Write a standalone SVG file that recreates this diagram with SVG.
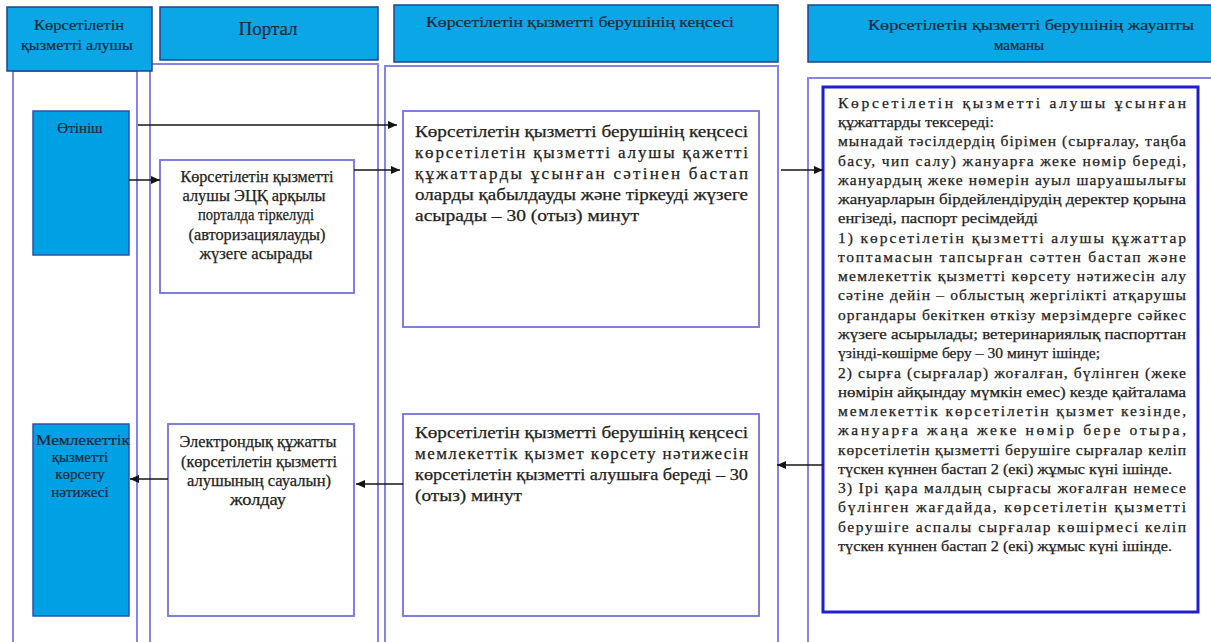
<svg xmlns="http://www.w3.org/2000/svg" width="1211" height="642" viewBox="0 0 1211 642">
<defs>
<style>
.hdr{fill:#0AA6E6;stroke:#23418F;stroke-width:1.5}
.lane{fill:none;stroke:#8585E3;stroke-width:2}
.box{fill:#fff;stroke:#7272DA;stroke-width:1.8}
.bbox{fill:#00A0E4;stroke:#2B52A8;stroke-width:1.5}
.big{fill:#fff;stroke:#1F1FD0;stroke-width:3}
.ht{fill:#15283A;stroke:#15283A;stroke-width:0.2;text-anchor:middle}
.t{fill:#222;stroke:#222;stroke-width:0.25}
.tc{fill:#222;stroke:#222;stroke-width:0.25;text-anchor:middle}
.conn{fill:none;stroke:#141414;stroke-width:1.5}
</style>
<marker id="ah" markerUnits="userSpaceOnUse" markerWidth="10" markerHeight="10" refX="9" refY="5" orient="auto">
<path d="M0,1 L9,5 L0,9 Z" fill="#141414"/>
</marker>
</defs>
<rect width="1211" height="642" fill="#fff"/>

<g id="lanes">
<rect class="lane" x="13" y="71" width="124" height="590"/>
<rect class="lane" x="150" y="64" width="228" height="600"/>
<rect class="lane" x="385" y="66" width="393" height="600"/>
<rect class="lane" x="808" y="78" width="420" height="600"/>
</g>

<g font-family="Liberation Serif, serif">
<g id="header-recipient">
<rect class="hdr" x="7" y="7" width="145" height="64"/>
<text class="ht" font-size="15" x="79" y="30" textLength="90" lengthAdjust="spacingAndGlyphs">Көрсетілетін</text>
<text class="ht" font-size="15" x="77" y="50" textLength="112" lengthAdjust="spacingAndGlyphs">қызметті алушы</text>
</g>
<g id="header-portal">
<rect class="hdr" x="160" y="7" width="218" height="53"/>
<text class="ht" font-size="19" x="268" y="35">Портал</text>
</g>
<g id="header-office">
<rect class="hdr" x="394" y="5" width="384" height="57"/>
<text class="ht" font-size="15" x="580" y="27" textLength="308" lengthAdjust="spacingAndGlyphs">Көрсетілетін қызметті берушінің кеңсесі</text>
</g>
<g id="header-specialist">
<rect class="hdr" x="808" y="5" width="410" height="57"/>
<text class="ht" font-size="15" x="1031" y="30" textLength="326" lengthAdjust="spacingAndGlyphs">Көрсетілетін қызметті берушінің жауапты</text>
<text class="ht" font-size="15" x="1019" y="50">маманы</text>
</g>

<g id="node-application">
<rect class="bbox" x="33" y="111" width="96" height="144"/>
<text class="ht" font-size="15" x="80" y="133">Өтініш</text>
</g>
<g id="node-result">
<rect class="bbox" x="33" y="424" width="96" height="192"/>
<text class="ht" font-size="15" x="83" y="445" textLength="94" lengthAdjust="spacingAndGlyphs">Мемлекеттік</text>
<text class="ht" font-size="15" x="80" y="462">қызметті</text>
<text class="ht" font-size="15" x="80" y="479">көрсету</text>
<text class="ht" font-size="15" x="80" y="497">нәтижесі</text>
</g>

<g id="node-portal-register">
<rect class="box" x="160" y="160" width="194" height="133"/>
<text class="tc" font-size="16" x="257" y="182" textLength="153" lengthAdjust="spacingAndGlyphs">Көрсетілетін қызметті</text>
<text class="tc" font-size="16" x="254" y="201" textLength="143" lengthAdjust="spacingAndGlyphs">алушы ЭЦҚ  арқылы</text>
<text class="tc" font-size="16" x="256" y="220" textLength="116" lengthAdjust="spacingAndGlyphs">порталда тіркелуді</text>
<text class="tc" font-size="16" x="257" y="240" textLength="137" lengthAdjust="spacingAndGlyphs">(авторизациялауды)</text>
<text class="tc" font-size="16" x="256" y="259" textLength="113" lengthAdjust="spacingAndGlyphs">жүзеге асырады</text>
</g>
<g id="node-portal-send">
<rect class="box" x="168" y="424" width="186" height="192"/>
<text class="tc" font-size="16" x="258" y="447" textLength="157" lengthAdjust="spacingAndGlyphs">Электрондық құжатты</text>
<text class="tc" font-size="16" x="259" y="467" textLength="156" lengthAdjust="spacingAndGlyphs">(көрсетілетін қызметті</text>
<text class="tc" font-size="16" x="259" y="486" textLength="144" lengthAdjust="spacingAndGlyphs">алушының сауалын)</text>
<text class="tc" font-size="16" x="258" y="505" textLength="56" lengthAdjust="spacingAndGlyphs">жолдау</text>
</g>

<g id="node-office-accept">
<rect class="box" x="403" y="111" width="356" height="216"/>
<text class="t" font-size="17" x="415" y="137" textLength="333" lengthAdjust="spacingAndGlyphs">Көрсетілетін қызметті берушінің кеңсесі</text>
<text class="t" font-size="17" x="415" y="158" textLength="333" lengthAdjust="spacing">көрсетілетін қызметті алушы қажетті</text>
<text class="t" font-size="17" x="415" y="179" textLength="333" lengthAdjust="spacing">құжаттарды ұсынған сәтінен бастап</text>
<text class="t" font-size="17" x="415" y="200" textLength="333" lengthAdjust="spacingAndGlyphs">оларды қабылдауды және тіркеуді жүзеге</text>
<text class="t" font-size="17" x="415" y="221" textLength="224" lengthAdjust="spacingAndGlyphs">асырады  – 30 (отыз) минут</text>
</g>
<g id="node-office-issue">
<rect class="box" x="403" y="414" width="356" height="202"/>
<text class="t" font-size="17" x="415" y="438" textLength="333" lengthAdjust="spacingAndGlyphs">Көрсетілетін қызметті берушінің кеңсесі</text>
<text class="t" font-size="17" x="415" y="459" textLength="333" lengthAdjust="spacing">мемлекеттік қызмет көрсету нәтижесін</text>
<text class="t" font-size="17" x="415" y="480" textLength="333" lengthAdjust="spacingAndGlyphs">көрсетілетін қызметті алушыға береді – 30</text>
<text class="t" font-size="17" x="415" y="501" textLength="107" lengthAdjust="spacingAndGlyphs">(отыз) минут</text>
</g>

<g id="node-specialist">
<rect class="big" x="823" y="87" width="375" height="525"/>
<g class="t" font-size="15.5">
<text x="838" y="108" textLength="348" lengthAdjust="spacing">Көрсетілетін қызметті алушы ұсынған</text>
<text x="838" y="127" textLength="156" lengthAdjust="spacingAndGlyphs">құжаттарды тексереді:</text>
<text x="838" y="146" textLength="348" lengthAdjust="spacing">мынадай тәсілдердің бірімен (сырғалау, таңба</text>
<text x="838" y="166" textLength="348" lengthAdjust="spacing">басу, чип салу) жануарға жеке нөмір береді,</text>
<text x="838" y="185" textLength="348" lengthAdjust="spacing">жануардың жеке нөмерін ауыл шаруашылығы</text>
<text x="838" y="204" textLength="348" lengthAdjust="spacingAndGlyphs">жануарларын бірдейлендірудің деректер қорына</text>
<text x="838" y="223" textLength="200" lengthAdjust="spacingAndGlyphs">енгізеді, паспорт ресімдейді</text>
<text x="838" y="243" textLength="348" lengthAdjust="spacing">1) көрсетілетін қызметті алушы құжаттар</text>
<text x="838" y="262" textLength="348" lengthAdjust="spacing">топтамасын тапсырған сәттен бастап және</text>
<text x="838" y="281" textLength="348" lengthAdjust="spacing">мемлекеттік қызметті көрсету нәтижесін алу</text>
<text x="838" y="300" textLength="348" lengthAdjust="spacing">сәтіне дейін – облыстың жергілікті атқарушы</text>
<text x="838" y="320" textLength="348" lengthAdjust="spacing">органдары бекіткен өткізу мерзімдерге сәйкес</text>
<text x="838" y="339" textLength="348" lengthAdjust="spacingAndGlyphs">жүзеге асырылады; ветеринариялық паспорттан</text>
<text x="838" y="358" textLength="262" lengthAdjust="spacingAndGlyphs">үзінді-көшірме беру – 30 минут ішінде;</text>
<text x="838" y="378" textLength="348" lengthAdjust="spacing">2) сырға (сырғалар) жоғалған, бүлінген (жеке</text>
<text x="838" y="397" textLength="348" lengthAdjust="spacingAndGlyphs">нөмірін айқындау мүмкін емес) кезде қайталама</text>
<text x="838" y="416" textLength="348" lengthAdjust="spacing">мемлекеттік көрсетілетін қызмет кезінде,</text>
<text x="838" y="435" textLength="348" lengthAdjust="spacing">жануарға жаңа жеке нөмір бере отыра,</text>
<text x="838" y="455" textLength="348" lengthAdjust="spacing">көрсетілетін қызметті берушіге сырғалар келіп</text>
<text x="838" y="474" textLength="334" lengthAdjust="spacingAndGlyphs">түскен күннен бастап 2  (екі) жұмыс күні ішінде.</text>
<text x="838" y="493" textLength="348" lengthAdjust="spacing">3) Ірі қара малдың сырғасы жоғалған немесе</text>
<text x="838" y="512" textLength="348" lengthAdjust="spacing">бүлінген жағдайда, көрсетілетін қызметті</text>
<text x="838" y="532" textLength="348" lengthAdjust="spacing">берушіге аспалы сырғалар көшірмесі келіп</text>
<text x="838" y="551" textLength="334" lengthAdjust="spacingAndGlyphs">түскен күннен бастап 2 (екі) жұмыс күні ішінде.</text>
</g>
</g>
</g>

<g id="connectors">
<path class="conn" d="M138 125 H397" marker-end="url(#ah)"/>
<path class="conn" d="M129 180 H160" marker-end="url(#ah)"/>
<path class="conn" d="M354 170 H400" marker-end="url(#ah)"/>
<path class="conn" d="M781 170 H823" marker-end="url(#ah)"/>
<path class="conn" d="M823 465 H777" marker-end="url(#ah)"/>
<path class="conn" d="M403 484 H356" marker-end="url(#ah)"/>
<path class="conn" d="M168 479 H130" marker-end="url(#ah)"/>
</g>
</svg>
